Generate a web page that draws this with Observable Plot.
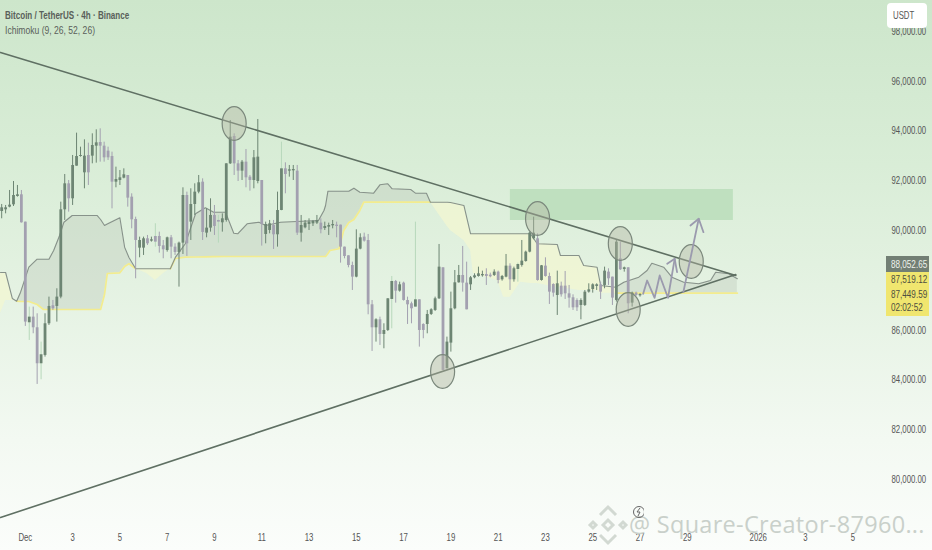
<!DOCTYPE html>
<html>
<head>
<meta charset="utf-8">
<script src="https://cdn.jsdelivr.net/npm/d3@7"></script>
<script src="https://cdn.jsdelivr.net/npm/@observablehq/plot@0.6"></script>
<style>
html,body{margin:0;padding:0}
#wrap{position:relative;width:932px;height:550px;overflow:hidden;background:linear-gradient(180deg,#cde6cb 0%,#d9edd7 30%,#e4f2e2 52%,#f3f9f2 80%,#fbfdfb 100%);font-family:"Liberation Sans",sans-serif;color:#555}
#wrap svg.plot{position:absolute;left:0;top:0;background:transparent}
.t{position:absolute;white-space:nowrap;line-height:1;transform-origin:left center}
</style>
</head>
<body>
<div id="wrap"></div>
<script>
const opens=[90764,90831,90938,91032,91367,91434,90336,86292,86519,86091,84645,84980,86252,86975,86948,87323,90831,91875,91273,92585,92973,92317,93014,92987,93388,93536,93388,93188,92973,91942,92009,92103,92210,91340,90443,89291,89291,89666,89572,89760,89760,89385,89197,89706,89331,89117,89492,91407,90336,91045,91541,91942,89894,90095,90604,90403,90309,90403,92679,93777,92679,92384,92746,92143,92009,91969,92009,89840,90001,90202,89827,90804,92478,92384,92398,92384,
89893,90108,90241,90268,90295,90295,90081,90134,90188,90215,90215,89331,88983,88594,88126,89251,89733,89599,87014,86090,86412,85823,85983,87229,87952,87563,87885,87188,87054,86921,87215,86224,86224,86626,86787,87255,88501,84444,85475,86854,87898,88193,87885,87818,88099,88152,88179,88233,88206,88193,88327,88019,88126,88568,88019,88434,88594,88755,89130,89666,89666,87992,88568,88152,87831,87389,87764,87764,87456,87296,87188,86988,86988,87523,87630,87751,87818,
87791,88327,88126,87189,88863,88434,88501,87082,87483,87376];
const highs=[91045,91005,91608,91969,91809,91608,90336,86921,86921,86653,85515,86653,87323,87189,87658,91139,92250,92009,93014,93911,93348,93643,93509,93884,94045,94085,93549,93348,93148,92545,92411,92478,92210,91474,90536,89733,89733,89800,89733,90269,89934,89599,89733,89800,89465,89532,91715,91541,91675,91875,92210,92076,90871,91273,91005,90604,90670,92679,94420,93884,92813,92813,93255,92210,93214,94460,92009,90336,90403,90403,91541,93549,92719,92612,92612,92612,
90603,90402,90469,90402,90603,90469,90335,90295,90402,90335,90215,89331,88983,88728,90027,89866,89893,89840,87188,86452,86519,86251,87255,88152,87992,87925,87925,87322,87121,90335,87215,86251,86787,86854,87322,89438,88501,85716,87523,88393,88594,89358,88728,88152,88260,88527,88367,88461,88286,88420,88367,88193,89036,88661,88527,88688,89599,89170,89933,90536,89866,88594,88902,88286,87858,88367,87925,88353,87791,87416,87255,87255,87590,87858,87858,87858,87925,
88528,88461,88126,89599,89532,88528,88501,87524,87524,87457];
const lows=[90470,90670,90911,90965,91340,90296,86145,85582,85850,83815,84002,84913,86185,86787,86319,87256,90403,90737,91005,92585,92947,91675,91809,92679,92706,92746,92746,92813,90871,91715,91809,92076,90938,90068,88059,88903,88997,89398,89532,89331,89090,88863,89130,88863,88997,87725,89037,88957,89599,90604,91474,89599,89706,89934,89800,89492,89934,90336,92652,92210,91969,92009,91715,91581,91675,91875,89372,89465,89867,89238,89331,90777,91474,92143,92009,89800,
89532,90067,90000,90161,90241,89866,90000,89800,90067,89706,88688,88862,88501,87590,88099,89224,89532,86613,85140,85515,85381,85247,85943,86050,87081,87523,87162,86224,86251,86921,85314,85649,85849,86586,86747,87229,84377,84444,85113,86813,87885,87523,86813,87590,88059,88126,88126,87791,88099,88152,87858,87965,88099,87590,87925,87925,88527,88728,89103,89625,87965,87965,88126,87028,87322,86586,87322,87229,86880,86787,86747,86412,86947,87483,87483,87590,87229,
87658,87791,86988,87122,88394,88327,86653,86921,87350,87323];
const closes=[90911,90911,91018,91407,91434,90309,86319,86519,86091,84645,85007,86252,86948,86854,87323,90831,91875,91273,92612,92973,93014,92987,92317,93415,93522,93388,92920,92920,91942,92050,92116,92237,91300,90429,89599,89599,89666,89465,89626,89532,89358,89224,89706,89331,89117,89492,91407,89465,91045,91541,91916,89921,90095,90604,90162,90336,90470,92679,93750,92679,92384,92746,92116,92009,92920,92947,90242,90242,90269,89827,90804,92478,92250,92438,92451,89894,
90201,90295,90335,90362,90402,90027,90161,90201,90241,90161,89331,88956,88594,88126,89251,89706,89572,87014,86090,86412,85823,85983,87255,87952,87563,87818,87188,87014,86854,87215,85983,85983,86626,86813,87255,88527,84377,85515,86854,87898,88193,87885,86813,88099,88179,88260,88233,88152,88139,88327,87992,88152,88568,88019,88461,88634,88768,89130,89893,89893,87992,88581,88152,87523,87483,87858,87416,87456,87282,86894,86894,87188,87523,87617,87818,87818,87523,
88367,88059,87283,89532,88421,88501,87055,87483,87390,87430];
const paleWickBars=[7,10,39,55,71,99,105,131];

// Ichimoku cloud, bars counted in 4h steps from the first candle
const cloudBars=[-0.3,1,2.7,3.8,4.8,6.9,9,10.6,12,13.2,14.7,15.8,17.9,24.2,25.1,26.1,26.8,30,31.2,32.3,34,36.8,39,41.1,42.8,44.1,46.6,49.2,51.7,53.8,56.8,58.9,59.9,62.3,65.3,67,70.8,80.4,81.8,82.2,82.8,83.3,85.6,86.8,88.1,89.4,90.9,91.9,94.4,96,98,99.1,103.8,105,107.8,108.8,113.1,113.9,117.3,119,119.7,125.8,127.4,129.1,131.7,134.2,135.9,141,141.8,146.5,147.7,151.1,152,155.8,157.9,161.7,163.8,165,168,170.1,173.1,176.9,179.9,181.2,184.5,186.7];
const cloudUpper=[88312,88312,87268,87159,87521,88525,88847,88847,88847,89196,89799,90333,90603,90603,90442,90201,90257,90510,89329,88915,88461,88461,88461,88461,88461,88927,89466,90671,90912,90735,90735,89892,89867,90269,90333,90201,90333,90402,90804,91005,91579,91579,91579,91579,91579,91700,91539,91527,91499,91836,91876,91676,91647,91499,91499,91137,91137,91125,91005,89867,89867,89867,89867,89867,89867,89867,89466,89437,88996,88996,88594,88525,87790,87722,87923,88124,88393,88686,88525,88124,87923,87858,87991,88325,88260,88059];
const cloudLower=[86665,87187,87187,87159,87147,87147,87027,86826,86826,86826,86826,86826,86826,86826,86826,87428,88272,88300,88554,88662,88461,88272,87991,88272,88461,88875,88927,88935,88943,88947,88955,88955,88955,88955,88955,88955,88955,88955,88955,88955,89076,89196,89265,90000,90321,90442,90804,91137,91137,91137,91137,91137,91137,91137,91137,91137,90161,90000,89598,89196,88272,87991,87320,87320,87923,87870,87870,87710,87710,87589,87589,87589,87481,87481,87481,87481,87481,87481,87481,87481,87481,87481,87481,87481,87481,87481];
const yellowSpans=[[-0.3,3.8],[34,42.8],[108.8,155.8]];
const graySpans=[[3.8,34],[42.8,108.8],[155.8,186.7]];

const trendBars=[-0.3,186.3];
const trendUpper=[97152,88192];
const trendLower=[78468,88232];
const zoneBars=[129.1,185.7];
const zonePrices=[90402,91647];
const ringBars=[59,111.9,136,157,159,175];
const ringPrices=[94299,84335,90482,89478,86826,88754];
const zigBars=[162.8,163.8,165.7,167,169.1,170.8];
const zigPrices=[87457,87991,87296,88192,87296,88863];
const head1Bars=[168.9,170.8,171.4];
const head1Prices=[88662,88863,88325];
const arrowBars=[173,176.9];
const arrowPrices=[87521,90470];
const head2Bars=[174.8,176.9,178.1];
const head2Prices=[90201,90470,89932];

const priceTicks=[80000,82000,84000,86000,90000,92000,94000,96000,98000];
const tickBars=[6,18,30,42,54,66,78,90,102,114,126,138,150,162,174,192,204,216];
const tickLabels=["Dec","3","5","7","9","11","13","15","17","19","21","23","25","27","29","2026","3","5"];

const candles=highs.map((h,i)=>({bar:i,open:opens[i],high:h,low:lows[i],close:closes[i]}));
const cloud=cloudBars.map((b,i)=>({bar:b,up:cloudUpper[i],lo:cloudLower[i]}));
const pts=(a,b)=>a.map((x,i)=>({x,y:b[i]}));
const inSpan=s=>d=>d.bar>=s[0]&&d.bar<=s[1];
const trendColor="#5f7063",arrowColor="#9b9aae";
const UP="#6d8573",DOWN="#a3a0b0";
const ellipse={draw(c,size){const rx=Math.sqrt(size/Math.PI),ry=rx*1.4,k=.5523;
  c.moveTo(rx,0);c.bezierCurveTo(rx,ry*k,rx*k,ry,0,ry);c.bezierCurveTo(-rx*k,ry,-rx,ry*k,-rx,0);
  c.bezierCurveTo(-rx,-ry*k,-rx*k,-ry,0,-ry);c.bezierCurveTo(rx*k,-ry,rx,-ry*k,rx,0);c.closePath();}};

const chart=Plot.plot({
  width:932,height:550,marginLeft:0,marginTop:0,marginRight:47,marginBottom:22,
  style:{fontFamily:'"Liberation Sans",sans-serif',fontSize:"11px",color:"#555",background:"transparent"},
  x:{type:"linear",domain:[-0.3,224.3]},
  y:{type:"linear",domain:[78026,99241]},
  marks:[
    ...yellowSpans.map(s=>Plot.areaY(cloud.filter(inSpan(s)),{x:"bar",y1:"up",y2:"lo",fill:"#f1f6d2",fillOpacity:.8})),
    ...graySpans.map(s=>Plot.areaY(cloud.filter(inSpan(s)),{x:"bar",y1:"up",y2:"lo",fill:"#b7c2b3",fillOpacity:.33})),
    ...graySpans.map(s=>Plot.line(cloud.filter(inSpan(s)),{x:"bar",y:"lo",stroke:"#f3ec8e",strokeWidth:1.7})),
    Plot.line(cloud,{x:"bar",y:"up",stroke:"#87928a",strokeWidth:1.1}),
    Plot.rect([{x1:zoneBars[0],x2:zoneBars[1],y1:zonePrices[0],y2:zonePrices[1]}],{x1:"x1",x2:"x2",y1:"y1",y2:"y2",fill:"#bfe0bf"}),
    Plot.ruleX(candles,{x:"bar",y1:"low",y2:"high",strokeWidth:1,stroke:d=>paleWickBars.includes(d.bar)?"#b7d8bb":(d.close>=d.open?UP:DOWN)}),
    Plot.ruleX(candles,{x:"bar",y1:"open",y2:"close",strokeWidth:2.8,stroke:d=>d.close>=d.open?UP:DOWN}),
    Plot.line(pts(trendBars,trendUpper),{x:"x",y:"y",stroke:trendColor,strokeWidth:1.6}),
    Plot.line(pts(trendBars,trendLower),{x:"x",y:"y",stroke:trendColor,strokeWidth:1.6}),
    Plot.dot(pts(ringBars,ringPrices),{x:"x",y:"y",r:12,symbol:ellipse,fill:"#b2b5a2",fillOpacity:.42,stroke:"#7b887c",strokeWidth:1.2}),
    Plot.line(pts(zigBars,zigPrices),{x:"x",y:"y",stroke:arrowColor,strokeWidth:1.8}),
    Plot.line(pts(head1Bars,head1Prices),{x:"x",y:"y",stroke:arrowColor,strokeWidth:1.8}),
    Plot.line(pts(arrowBars,arrowPrices),{x:"x",y:"y",stroke:arrowColor,strokeWidth:1.8}),
    Plot.line(pts(head2Bars,head2Prices),{x:"x",y:"y",stroke:arrowColor,strokeWidth:1.8}),
    Plot.axisY({anchor:"right",ticks:priceTicks,tickSize:0,tickPadding:6,tickFormat:d3.format(",.2f"),label:null}),
    Plot.axisX({anchor:"bottom",ticks:tickBars,tickSize:0,tickPadding:5,tickFormat:d=>tickLabels[tickBars.indexOf(d)],label:null})
  ]
});
const wrap=document.getElementById("wrap");
wrap.appendChild(chart);
// the reference's labels are condensed: narrow the axis glyphs
chart.querySelectorAll('g[aria-label$="axis tick label"] text').forEach(t=>{
  t.setAttribute("textLength",(t.getComputedTextLength()*.71).toFixed(1));
  t.setAttribute("lengthAdjust","spacingAndGlyphs");
});

function label(txt,css,sx){const e=document.createElement("div");e.className="t";e.textContent=txt;e.style.cssText=css+(sx?`;transform:scaleX(${sx})`:"");wrap.appendChild(e);return e;}
function box(css){const e=document.createElement("div");e.style.cssText="position:absolute;"+css;wrap.appendChild(e);}
label("Bitcoin / TetherUS · 4h · Binance","left:5px;top:10px;font-size:11.5px;font-weight:bold;color:#5a5f5a",.7);
label("Ichimoku (9, 26, 52, 26)","left:5px;top:25px;font-size:11.5px;color:#5a5f5a",.745);
box("left:887px;top:3px;width:40px;height:25px;background:#fff;border-radius:4px");
label("USDT","left:893px;top:10px;font-size:11.5px;color:#555",.68);
box("left:886px;top:256px;width:43px;height:16px;background:#727f74");
box("left:886px;top:272px;width:43px;height:44px;background:#f0e66f");
label("88,052.65","left:891px;top:259px;font-size:11px;color:#eef3ec",.74);
label("87,519.12","left:891px;top:274px;font-size:11px;color:#4e4e40",.74);
label("87,449.59","left:891px;top:289px;font-size:11px;color:#4e4e40",.74);
label("02:02:52","left:891px;top:302px;font-size:11px;color:#4e4e40",.74);
// watermark
label("@ Square-Creator-87960...","left:629px;top:513px;font-family:'Open Sans',sans-serif;font-size:23.5px;color:#c9d0ca;letter-spacing:.3px");
const ns="http://www.w3.org/2000/svg";
const wm=document.createElementNS(ns,"svg");
wm.setAttribute("height","50");wm.setAttribute("width","60");
wm.style.cssText="position:absolute;left:584px;top:500px";
wm.innerHTML='<g fill="none" stroke="#d2d9d2" stroke-width="3"><path d="M16 15l8-8 8 8"/><path d="M16 35l8 8 8-8"/><path d="M6 25l3-3 3 3-3 3z"/><path d="M36 25l3-3 3 3-3 3z"/><path d="M19 25l5-5 5 5-5 5z"/></g><circle cx="55" cy="12" r="5.5" fill="none" stroke="#666" stroke-width="1"/><path d="M56 8l-3 4h3l-2 4" fill="none" stroke="#666" stroke-width="1"/>';
wrap.appendChild(wm);
</script>
</body>
</html>
